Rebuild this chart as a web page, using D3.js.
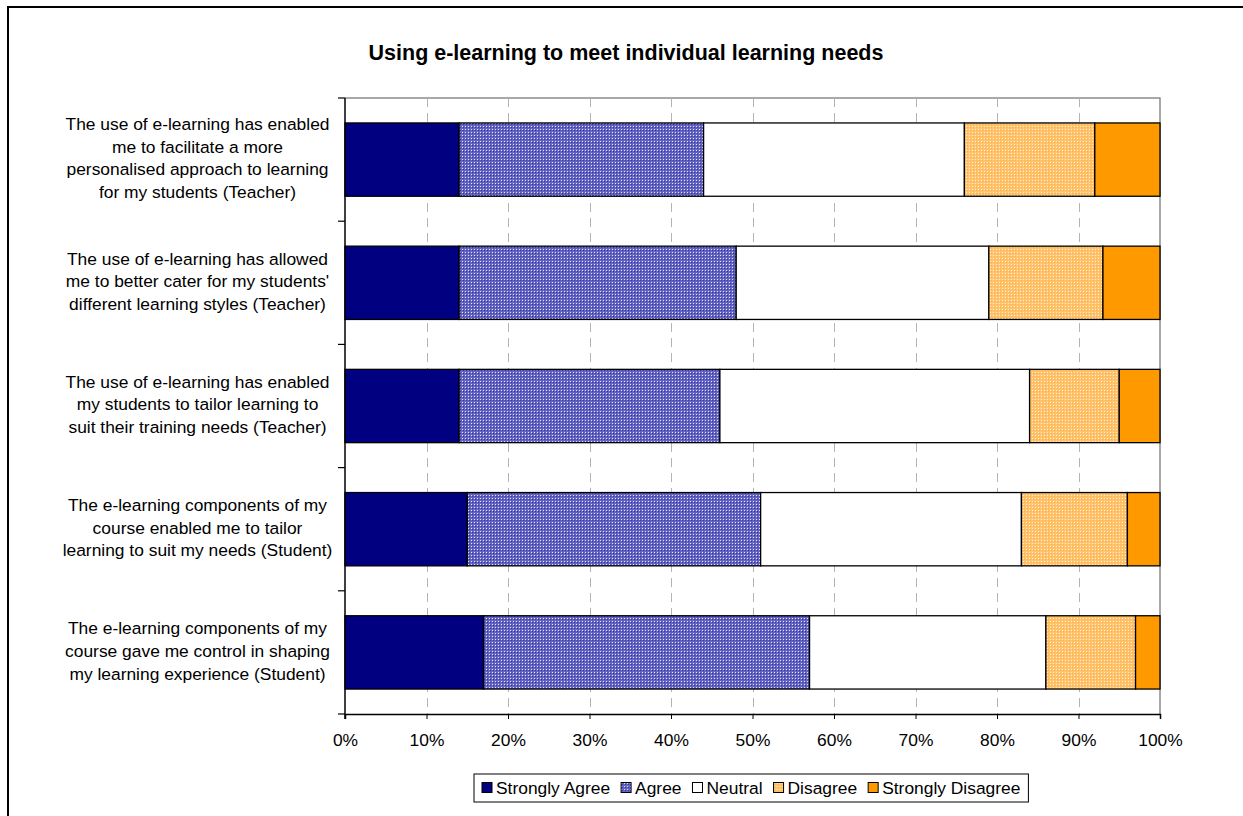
<!DOCTYPE html>
<html>
<head>
<meta charset="utf-8">
<script src="https://cdn.jsdelivr.net/npm/d3@7"></script>
<style>
  html, body { margin: 0; padding: 0; background: #fff; }
  svg { display: block; font-family: "Liberation Sans", Arial, sans-serif; }
</style>
</head>
<body>
<svg id="chart" width="1243" height="816"></svg>
<script>
// Survey statements, one line array per statement as wrapped on the axis
const statements = [
  ["The use of e-learning has enabled", "me to facilitate a more", "personalised approach to learning", "for my students (Teacher)"],
  ["The use of e-learning has allowed", "me to better cater for my students'", "different learning styles (Teacher)"],
  ["The use of e-learning has enabled", "my students to tailor learning to", "suit their training needs (Teacher)"],
  ["The e-learning components of my", "course enabled me to tailor", "learning to suit my needs (Student)"],
  ["The e-learning components of my", "course gave me control in shaping", "my learning experience (Student)"]
];
const responses = ["Strongly Agree", "Agree", "Neutral", "Disagree", "Strongly Disagree"];

// Percentage of respondents per response, one array per response level
const stronglyAgree    = [14, 14, 14, 15, 17];
const agree            = [30, 34, 32, 36, 40];
const neutral          = [32, 31, 38, 32, 29];
const disagree         = [16, 14, 11, 13, 11];
const stronglyDisagree = [8, 7, 5, 4, 3];

const xTicks = [0, 10, 20, 30, 40, 50, 60, 70, 80, 90, 100];
const title = "Using e-learning to meet individual learning needs";

const svg = d3.select("#chart");

// Fill patterns for the dithered series
const defs = svg.append("defs");
const agreePat = defs.append("pattern").attr("id", "patAgree")
  .attr("patternUnits", "userSpaceOnUse").attr("width", 3).attr("height", 3);
agreePat.append("rect").attr("width", 3).attr("height", 3).attr("fill", "#6363c2");
agreePat.append("rect").attr("width", 1).attr("height", 1).attr("fill", "#e4e4ff");
agreePat.append("rect").attr("x", 1).attr("y", 1).attr("width", 1).attr("height", 1).attr("fill", "#36369c");

const disPat = defs.append("pattern").attr("id", "patDis")
  .attr("patternUnits", "userSpaceOnUse").attr("width", 3).attr("height", 3);
disPat.append("rect").attr("width", 3).attr("height", 3).attr("fill", "#ffc36e");
disPat.append("rect").attr("width", 1).attr("height", 1).attr("fill", "#fff0dc");
disPat.append("rect").attr("x", 1).attr("y", 1).attr("width", 1).attr("height", 1).attr("fill", "#ffb040");

const fills = ["#000080", "url(#patAgree)", "#ffffff", "url(#patDis)", "#ff9900"];

// Outer chart frame
svg.append("path").attr("d", "M8,816 V7 H1243")
  .attr("fill", "none").attr("stroke", "#000").attr("stroke-width", 2);

// Title
svg.append("text").attr("x", 626).attr("y", 60)
  .attr("text-anchor", "middle").attr("font-weight", "bold").attr("font-size", 21.5)
  .text(title);

const plot = { left: 345, right: 1160, top: 98, bottom: 714 };

const x = d3.scaleLinear().domain([0, 100]).range([plot.left, plot.right]);
const y = d3.scaleBand().domain(d3.range(statements.length))
  .range([plot.top, plot.bottom]).paddingInner(0.405).paddingOuter(0.2025);

// Plot area frame (top and right)
svg.append("path")
  .attr("d", `M${plot.left},${plot.top} H${plot.right} V${plot.bottom}`)
  .attr("fill", "none").attr("stroke", "#8c8c8c").attr("stroke-width", 1.5);

// Vertical dashed gridlines
svg.append("g").selectAll("line").data(xTicks.filter(t => t > 0 && t < 100)).join("line")
  .attr("x1", d => Math.round(x(d)) + 0.5).attr("x2", d => Math.round(x(d)) + 0.5)
  .attr("y1", plot.top).attr("y2", plot.bottom)
  .attr("stroke", "#b4b4b4").attr("stroke-dasharray", "9,6");

// Stacked bars
const series = [stronglyAgree, agree, neutral, disagree, stronglyDisagree];
const rows = statements.map((s, i) => {
  const o = { idx: i };
  responses.forEach((r, k) => { o[r] = series[k][i]; });
  return o;
});
const stacked = d3.stack().keys(responses)(rows);

svg.append("g").selectAll("g").data(stacked).join("g")
  .attr("fill", (d, k) => fills[k])
  .selectAll("rect").data(d => d).join("rect")
  .attr("x", d => x(d[0]))
  .attr("width", d => x(d[1]) - x(d[0]))
  .attr("y", d => y(d.data.idx))
  .attr("height", y.bandwidth())
  .attr("stroke", "#000").attr("stroke-width", 1.3);

// X axis
const xAxis = d3.axisBottom(x).tickValues(xTicks).tickFormat(d => d + "%")
  .tickSize(5).tickPadding(15);
const gx = svg.append("g").attr("transform", `translate(0,${plot.bottom})`).call(xAxis);
gx.select(".domain").attr("stroke", "#000").attr("stroke-width", 1.5);
gx.selectAll(".tick line").attr("stroke", "#000");
gx.selectAll(".tick text").attr("font-size", 17.4).attr("fill", "#000")
  .attr("font-family", "Liberation Sans, Arial, sans-serif");

// Y axis line and category boundary ticks
svg.append("line").attr("x1", plot.left).attr("x2", plot.left)
  .attr("y1", plot.top).attr("y2", plot.bottom + 5)
  .attr("stroke", "#000").attr("stroke-width", 1.5);
svg.append("g").selectAll("line").data(d3.range(statements.length + 1)).join("line")
  .attr("x1", plot.left - 7).attr("x2", plot.left)
  .attr("y1", i => plot.top + i * (plot.bottom - plot.top) / statements.length)
  .attr("y2", i => plot.top + i * (plot.bottom - plot.top) / statements.length)
  .attr("stroke", "#000").attr("stroke-width", 1.2);

// Category labels
const lineH = 22.8;
const labels = svg.append("g").selectAll("text").data(statements).join("text")
  .attr("text-anchor", "middle").attr("font-size", 17.4).attr("fill", "#000")
  .attr("transform", (d, i) => {
    const cy = y(i) + y.bandwidth() / 2;
    const top = cy - (d.length - 1) * lineH / 2;
    return `translate(197.5,${top + 4.5})`;
  });
labels.selectAll("tspan").data(d => d).join("tspan")
  .attr("x", 0).attr("y", (d, j) => j * lineH).text(d => d);

// Legend
const legend = svg.append("g");
const legendBox = legend.append("rect")
  .attr("fill", "#fff").attr("stroke", "#000").attr("stroke-width", 1);
const items = legend.selectAll("g").data(responses).join("g");
items.append("rect").attr("y", -0.5).attr("width", 10).attr("height", 10)
  .attr("fill", (d, k) => fills[k]).attr("stroke", "#000").attr("stroke-width", 1);
items.append("text").attr("x", 14).attr("y", 10.5).attr("font-size", 17.4).text(d => d);
let cx = 0;
items.each(function () {
  d3.select(this).attr("transform", `translate(${cx},0)`);
  cx += 14 + this.querySelector("text").getComputedTextLength() + 11;
});
const legendW = cx - 11 + 16;
const legendX = 474, legendY = 774;
legendBox.attr("x", -8).attr("y", -9).attr("width", legendW).attr("height", 28);
legend.attr("transform", `translate(${legendX + 8},${legendY + 9})`);
</script>
</body>
</html>
